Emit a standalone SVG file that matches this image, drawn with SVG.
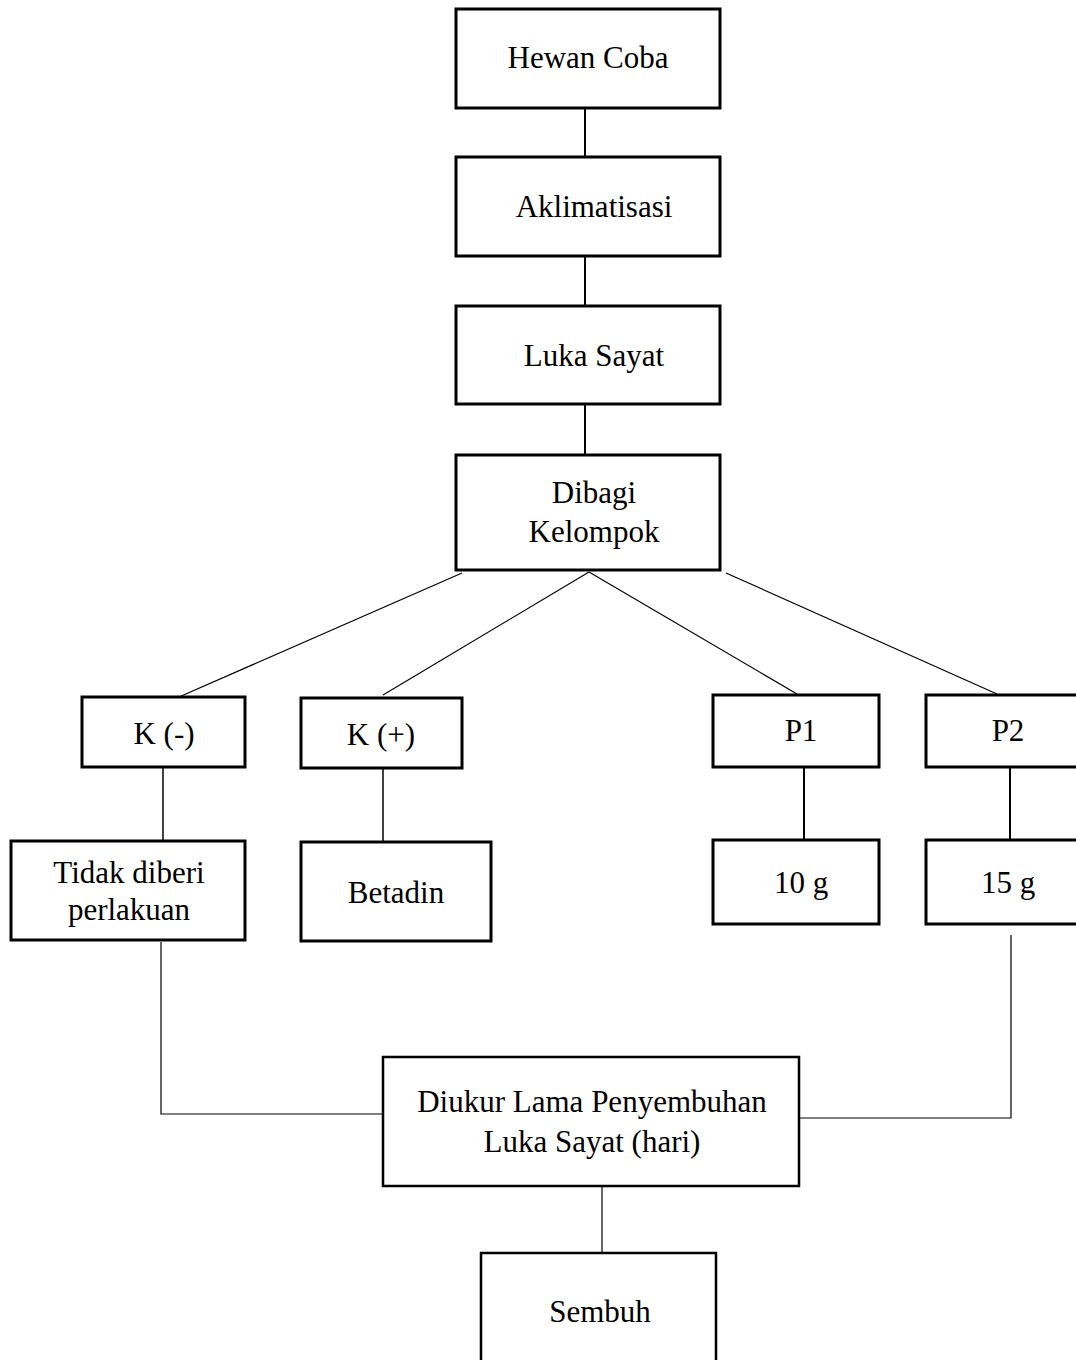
<svg xmlns="http://www.w3.org/2000/svg" width="1076" height="1360" viewBox="0 0 1076 1360">
<style>
.box{fill:#fff;stroke:#000;stroke-width:3}
.t{font-family:"Liberation Serif","Times New Roman",serif;font-size:31px;fill:#000;text-anchor:middle}
.c{fill:none;stroke:#000;stroke-width:1.5}
.c2{fill:none;stroke:#000;stroke-width:2}
.c1{fill:none;stroke:#000;stroke-width:1.2}
</style>
<rect width="1076" height="1360" fill="#fff"/>
<g id="connectors">
<line class="c2" x1="585" y1="108" x2="585" y2="157"/>
<line class="c2" x1="585" y1="256" x2="585" y2="306"/>
<line class="c2" x1="585" y1="404" x2="585" y2="455"/>
<line class="c1" x1="462" y1="573" x2="179" y2="697"/>
<line class="c1" x1="589" y1="572" x2="383" y2="695"/>
<line class="c1" x1="589" y1="572" x2="797" y2="694"/>
<line class="c1" x1="726" y1="573" x2="997" y2="694"/>
<line class="c" x1="163" y1="767" x2="163" y2="842"/>
<line class="c" x1="383" y1="767" x2="383" y2="843"/>
<line class="c2" x1="804" y1="767" x2="804" y2="840"/>
<line class="c2" x1="1010" y1="767" x2="1010" y2="840"/>
<polyline class="c1" points="161,942 161,1114 383,1114"/>
<polyline class="c1" points="1011,935 1011,1118 800,1118"/>
<line class="c1" x1="602" y1="1186" x2="602" y2="1261"/>
</g>
<g id="hewan-coba"><rect class="box" x="456" y="9" width="264" height="99"/><text class="t" x="588" y="68">Hewan Coba</text></g>
<g id="aklimatisasi"><rect class="box" x="456" y="157" width="264" height="99"/><text class="t" x="594" y="217">Aklimatisasi</text></g>
<g id="luka-sayat"><rect class="box" x="456" y="306" width="264" height="98"/><text class="t" x="594" y="366">Luka Sayat</text></g>
<g id="dibagi-kelompok"><rect class="box" x="456" y="455" width="264" height="115"/><text class="t" x="594" y="503">Dibagi</text><text class="t" x="594" y="542">Kelompok</text></g>
<g id="k-neg"><rect class="box" x="82" y="697" width="163" height="70"/><text class="t" x="164" y="744">K (-)</text></g>
<g id="k-pos"><rect class="box" x="301" y="698" width="161" height="70"/><text class="t" x="381" y="745">K (+)</text></g>
<g id="p1"><rect class="box" x="713" y="695" width="166" height="72"/><text class="t" x="801" y="741">P1</text></g>
<g id="p2"><rect class="box" x="926" y="695" width="170" height="72"/><text class="t" x="1008" y="741">P2</text></g>
<g id="tidak-diberi"><rect class="box" x="11" y="841" width="234" height="99"/><text class="t" x="129" y="883">Tidak diberi</text><text class="t" x="129" y="920">perlakuan</text></g>
<g id="betadin"><rect class="box" x="301" y="842" width="190" height="99"/><text class="t" x="396" y="903">Betadin</text></g>
<g id="g10"><rect class="box" x="713" y="840" width="166" height="84"/><text class="t" x="801" y="893">10 g</text></g>
<g id="g15"><rect class="box" x="926" y="840" width="170" height="84"/><text class="t" x="1008" y="893">15 g</text></g>
<g id="diukur"><rect class="box" x="383" y="1057" width="416" height="129" style="stroke-width:2.5"/><text class="t" x="592" y="1112">Diukur Lama Penyembuhan</text><text class="t" x="592" y="1152">Luka Sayat (hari)</text></g>
<g id="sembuh"><rect class="box" x="481" y="1253" width="235" height="130" style="stroke-width:2.5"/><text class="t" x="600" y="1322">Sembuh</text></g>
</svg>
